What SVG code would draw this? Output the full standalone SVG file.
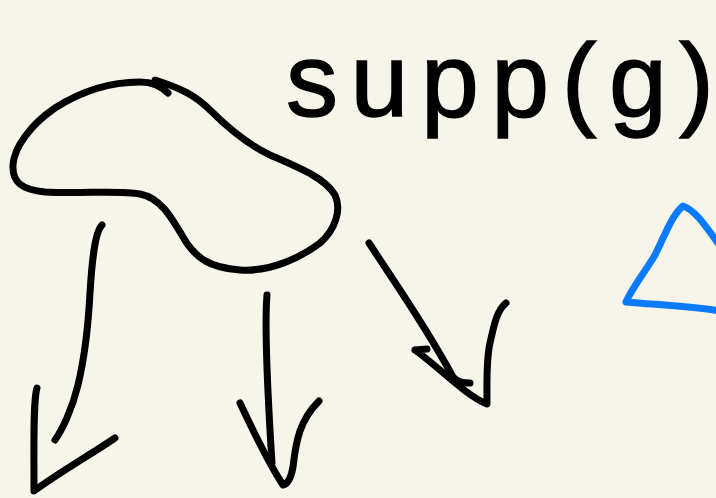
<svg xmlns="http://www.w3.org/2000/svg" width="716" height="498" viewBox="0 0 716 498">
  <style>
    .ink { fill: none; stroke: #000; stroke-width: 7; stroke-linecap: round; stroke-linejoin: round; }
    .blue { fill: none; stroke: #0a7bff; stroke-width: 7; stroke-linecap: round; stroke-linejoin: round; }
    .hand { font-family: "Liberation Sans", Arial, sans-serif; font-size: 104px; fill: #000; stroke: #000; stroke-width: 1.5; }
  </style>
  <rect width="716" height="498" fill="#f7f5e9"/>

  <!-- closed blob shape -->
  <g id="blob">
    <path class="ink" d="M168,93 C160,85 150,82 140,82 C110,82 80,92 55,108 C30,125 14,148 13,165 C12,182 22,190 45,192 C80,194 120,190 140,194 C160,198 170,215 183,237 C195,258 210,268 240,270 C270,272 300,258 320,243 C335,230 342,210 335,195 C325,178 300,168 270,155 C245,143 225,125 210,110 C195,95 180,88 155,80"/>
  </g>

  <!-- label -->
  <g id="label">
    <text class="hand" x="286" y="116" textLength="428" lengthAdjust="spacing">supp(g)</text>
  </g>

  <!-- partial triangle at right edge -->
  <g id="triangle">
    <path class="blue" d="M720,246 C705,225 695,210 683,206 C672,215 665,235 655,255 C645,272 632,288 626,302 C660,305 690,306 720,311"/>
  </g>

  <!-- arrows -->
  <g id="connectors">
    <path class="ink" d="M102,225 C95,232 92,260 90,293 C88,330 84,360 78,385 C72,410 62,430 55,440"/>
    <path class="ink" d="M37,388 C33,400 34,450 34,491 C60,472 90,455 115,438"/>

    <path class="ink" d="M267,295 C264,330 268,400 272,463"/>
    <path class="ink" d="M240,403 C255,435 270,465 283,485 C288,484 291,478 293,467 C296,440 300,420 319,401"/>

    <path class="ink" d="M369,243 C395,283 425,325 453,377 C458,383 464,383 470,383"/>
    <path class="ink" d="M415,350 L427,349 M415,350 C440,368 465,395 487,404 C487,385 486,360 490,343 C494,325 497,310 506,303"/>
  </g>
</svg>
